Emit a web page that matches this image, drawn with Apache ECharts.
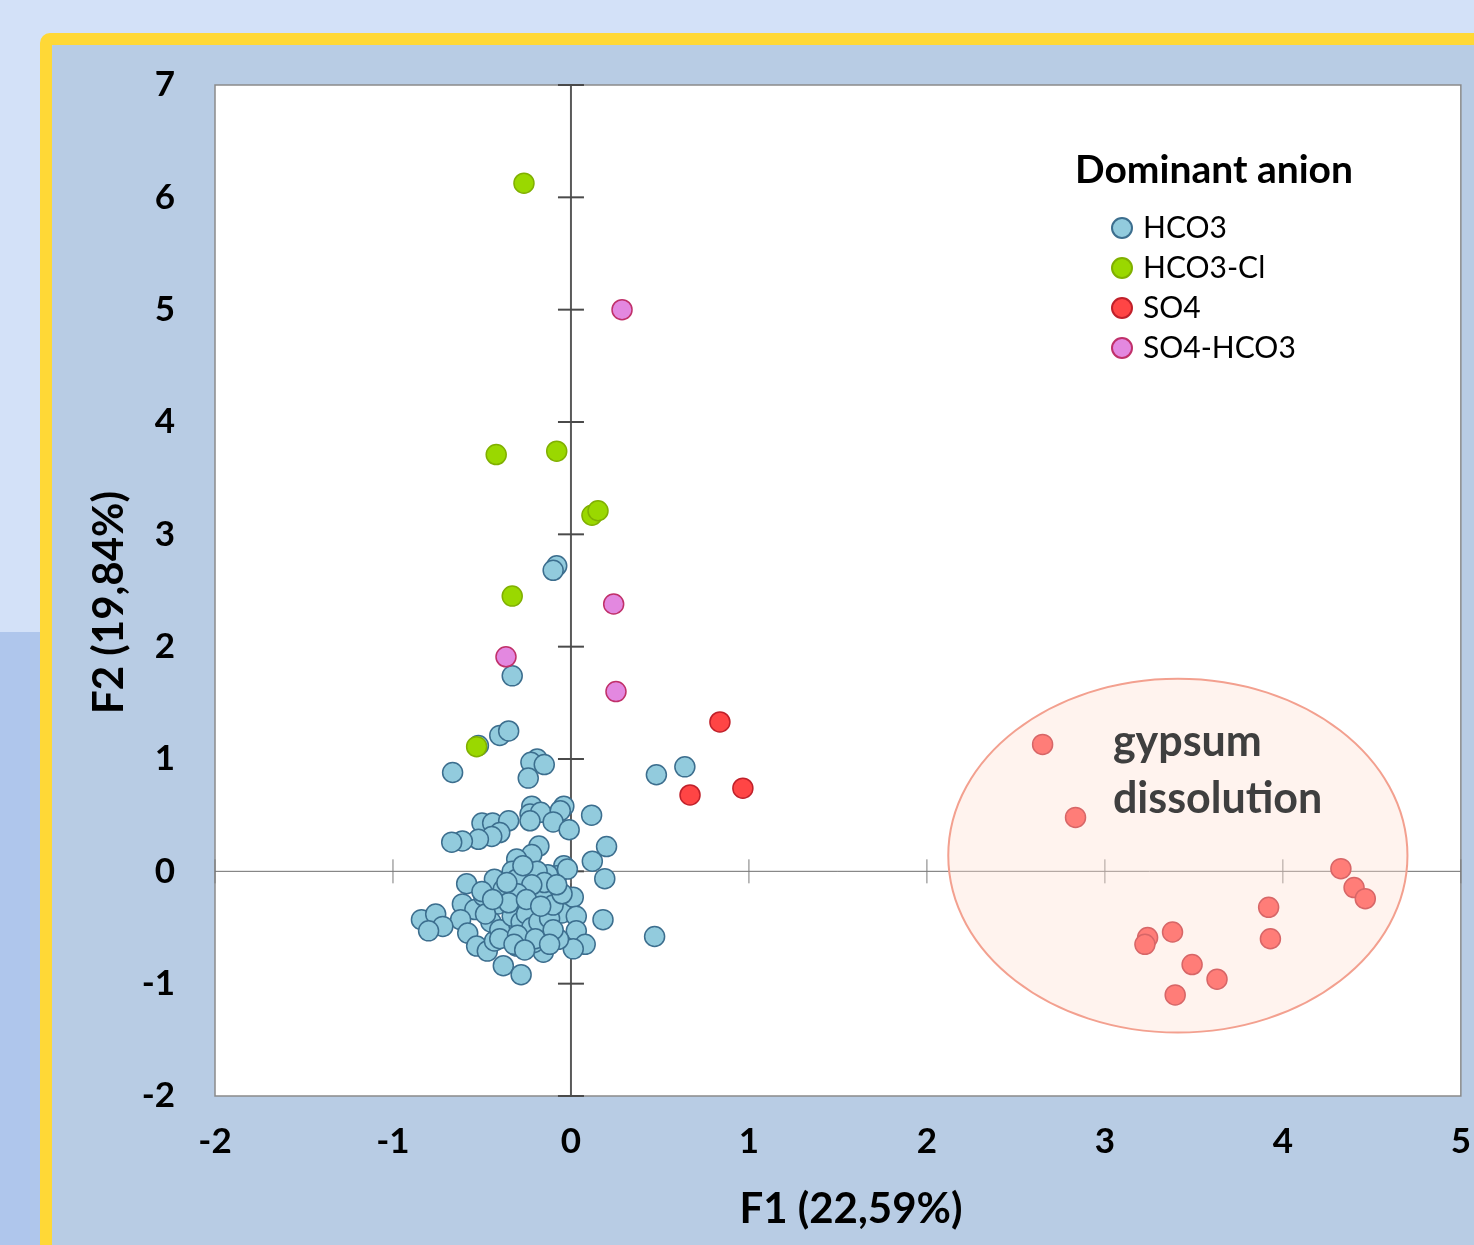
<!DOCTYPE html>
<html>
<head>
<meta charset="utf-8">
<script src="https://cdn.jsdelivr.net/npm/echarts@6/dist/echarts.min.js"></script>
<style>
  html, body { margin: 0; padding: 0; width: 1474px; height: 1245px; overflow: hidden; background: #d3e1f8; }
  #strip { position: absolute; left: 0; top: 632px; width: 40px; height: 613px; background: #afc6ec; }
  #frame { position: absolute; left: 40px; top: 33px; width: 1480px; height: 1260px; box-sizing: border-box;
           border: 12px solid #ffd836; border-radius: 10px; background: #b8cce4; }
  #chart { position: absolute; left: 0; top: 0; width: 1474px; height: 1245px; }
</style>
</head>
<body>
<div id="strip"></div>
<div id="frame"></div>
<div id="chart"></div>
<script>
// ---- data ----
const xTicks = [-2, -1, 0, 1, 2, 3, 4, 5];
const yTicks = [-2, -1, 0, 1, 2, 3, 4, 5, 6, 7];
const xTitle = 'F1 (22,59%)';
const yTitle = 'F2 (19,84%)';
const legendTitle = 'Dominant anion';
const seriesNames = ['HCO3', 'HCO3-Cl', 'SO4', 'SO4-HCO3'];

const hco3 = [
  [-0.08,2.72],[-0.10,2.68],[-0.33,1.74],[-0.40,1.21],[-0.35,1.25],[-0.52,1.12],[-0.665,0.88],
  [-0.19,1.00],[-0.225,0.97],[-0.15,0.95],[-0.24,0.83],[0.48,0.86],[0.64,0.93],[0.47,-0.58],
  [-0.22,0.58],[-0.23,0.51],[-0.17,0.525],[-0.23,0.45],[-0.04,0.58],[-0.06,0.54],[-0.10,0.44],
  [-0.01,0.37],[0.116,0.50],
  [-0.50,0.43],[-0.44,0.43],[-0.35,0.45],[-0.40,0.345],[-0.445,0.31],[-0.52,0.285],[-0.61,0.27],[-0.67,0.26],
  [0.20,0.22],[0.12,0.09],[0.19,-0.065],[0.18,-0.43],
  [-0.18,0.225],[-0.22,0.15],[-0.305,0.11],[-0.33,0.0],[-0.305,-0.07],
  [-0.04,0.05],[-0.08,-0.04],[-0.13,-0.03],[-0.19,0.0],
  [-0.586,-0.11],[-0.43,-0.07],[-0.61,-0.29],[-0.54,-0.34],[-0.62,-0.43],[-0.58,-0.55],[-0.53,-0.665],
  [-0.47,-0.71],[-0.43,-0.62],[-0.35,-0.50],[-0.41,-0.29],[-0.38,-0.16],[-0.49,-0.22],
  [-0.84,-0.43],[-0.76,-0.38],[-0.72,-0.49],[-0.80,-0.53],
  [-0.21,-0.37],[-0.165,-0.205],[-0.05,-0.37],[0.013,-0.23],[0.03,-0.40],[0.03,-0.53],[0.08,-0.65],
  [0.013,-0.69],[-0.07,-0.605],[-0.14,-0.55],[-0.155,-0.72],[-0.24,-0.49],[-0.25,-0.58],[-0.305,-0.665],
  [-0.21,-0.635],[-0.29,-0.34],
  [-0.38,-0.84],[-0.28,-0.92],
  [-0.45,-0.45],[-0.40,-0.52],[-0.33,-0.40],[-0.28,-0.45],[-0.25,-0.38],[-0.22,-0.50],[-0.18,-0.45],
  [-0.12,-0.42],[-0.10,-0.30],[-0.15,-0.10],[-0.22,-0.12],[-0.30,-0.20],[-0.35,-0.28],[-0.48,-0.38],
  [-0.40,-0.60],[-0.30,-0.57],[-0.20,-0.60],[-0.10,-0.52],[-0.05,-0.20],[-0.02,0.02],[-0.27,0.05],
  [-0.36,-0.10],[-0.25,-0.25],[-0.17,-0.31],[-0.08,-0.12],[-0.50,-0.18],[-0.44,-0.25],[-0.32,-0.65],
  [-0.26,-0.70],[-0.12,-0.65]
];
const hco3Cl = [
  [-0.264,6.126],[-0.42,3.71],[-0.08,3.74],[0.118,3.17],[0.152,3.21],[-0.33,2.45],[-0.53,1.11]
];
const so4 = [
  [0.837,1.33],[0.966,0.74],[0.669,0.68],
  [2.65,1.13],[2.835,0.48],[4.326,0.024],[4.40,-0.145],[4.463,-0.243],[3.92,-0.32],[3.93,-0.60],
  [3.38,-0.54],[3.24,-0.59],[3.225,-0.65],[3.49,-0.83],[3.63,-0.96],[3.395,-1.10]
];
const so4Hco3 = [
  [0.287,5.0],[0.24,2.38],[-0.365,1.91],[0.253,1.60]
];
// annotation: gypsum dissolution ellipse (data units) and its label
const ellipseCenter = [3.41, 0.14];
const ellipseRadius = [1.29, 1.575];
const noteLines = ['gypsum', 'dissolution'];
const noteAnchor = [[3.045, 1.15], [3.045, 0.64]];

// ---- chart ----
const chart = echarts.init(document.getElementById('chart'), null, { renderer: 'canvas' });
const FONT = 'Lato, "Open Sans", sans-serif';

function scatter(name, data, fill, border) {
  return {
    name, type: 'scatter', data, z: 3,
    symbol: 'circle', symbolSize: 20,
    itemStyle: { color: fill, borderColor: border, borderWidth: 1.5, opacity: 1 },
    emphasis: { disabled: true }
  };
}

const option = {
  backgroundColor: 'transparent',
  animation: false,
  title: {
    text: legendTitle, left: 1070, top: 146,
    textStyle: { fontFamily: FONT, fontWeight: 'bold', fontSize: 39, color: '#000' }
  },
  legend: {
    data: seriesNames, orient: 'vertical', left: 1106, top: 208,
    itemWidth: 20, itemHeight: 20, itemGap: 10, icon: 'circle',
    textStyle: { fontFamily: FONT, fontSize: 30, color: '#000', lineHeight: 30, padding: [0, 0, 0, 6] },
    selectedMode: false
  },
  grid: {
    left: 215, top: 85, width: 1246, height: 1011,
    show: true, backgroundColor: '#ffffff', borderColor: '#8a8a8a', borderWidth: 1.5
  },
  xAxis: {
    type: 'value', min: xTicks[0], max: xTicks[xTicks.length - 1], interval: 1,
    axisLine: { show: false, onZero: false }, axisTick: { show: false }, splitLine: { show: false },
    axisLabel: { fontFamily: FONT, fontWeight: 'bold', fontSize: 35, color: '#000', margin: 28 },
    name: xTitle, nameLocation: 'middle', nameGap: 92,
    nameTextStyle: { fontFamily: FONT, fontWeight: 'bold', fontSize: 42, color: '#000', padding: [0, 0, 0, 26] }
  },
  yAxis: {
    type: 'value', min: yTicks[0], max: yTicks[yTicks.length - 1], interval: 1,
    axisLine: { show: false, onZero: false }, axisTick: { show: false }, splitLine: { show: false },
    axisLabel: { fontFamily: FONT, fontWeight: 'bold', fontSize: 35, color: '#000', margin: 40 },
    name: yTitle, nameLocation: 'middle', nameGap: 84,
    nameTextStyle: { fontFamily: FONT, fontWeight: 'bold', fontSize: 42, color: '#000', padding: [0, 24, 0, 0] }
  },
  series: [
    {
      // crosshair axes through the origin with crossing tick marks
      type: 'custom', z: 1, silent: true, clip: false, data: [[0, 0]],
      renderItem: function (params, api) {
        const ch = [];
        const xl = api.coord([xTicks[0], 0]), xr = api.coord([xTicks[xTicks.length - 1], 0]);
        const yb = api.coord([0, yTicks[0]]), yt = api.coord([0, yTicks[yTicks.length - 1]]);
        ch.push({ type: 'line', shape: { x1: xl[0], y1: xl[1], x2: xr[0], y2: xr[1] },
                  style: { stroke: '#6e6e6e', lineWidth: 1 } });
        ch.push({ type: 'line', shape: { x1: yb[0], y1: yb[1], x2: yt[0], y2: yt[1] },
                  style: { stroke: '#5a5a5a', lineWidth: 2 } });
        xTicks.forEach(function (v) {
          const p = api.coord([v, 0]);
          ch.push({ type: 'line', shape: { x1: p[0], y1: p[1] - 12, x2: p[0], y2: p[1] + 12 },
                    style: { stroke: '#7a7a7a', lineWidth: 1 } });
        });
        yTicks.forEach(function (v) {
          const p = api.coord([0, v]);
          ch.push({ type: 'line', shape: { x1: p[0] - 13, y1: p[1], x2: p[0] + 13, y2: p[1] },
                    style: { stroke: '#4a4a4a', lineWidth: 2 } });
        });
        return { type: 'group', children: ch };
      }
    },
    scatter(seriesNames[0], hco3, '#92cbdd', '#3c6e8e'),
    scatter(seriesNames[1], hco3Cl, '#9ad800', '#80b000'),
    scatter(seriesNames[2], so4, '#ff4545', '#c0202a'),
    scatter(seriesNames[3], so4Hco3, '#e388e0', '#c0306a'),
    {
      // translucent ellipse over the gypsum-dissolution group, with its label
      type: 'custom', z: 6, silent: true, clip: false, data: [[ellipseCenter[0], ellipseCenter[1]]],
      renderItem: function (params, api) {
        const c = api.coord(ellipseCenter);
        const s = api.size(ellipseRadius);
        const ch = [{
          type: 'ellipse', shape: { cx: c[0], cy: c[1], rx: s[0], ry: s[1] },
          style: { fill: 'rgba(255,222,209,0.37)', stroke: '#f3a08f', lineWidth: 2 }
        }];
        noteLines.forEach(function (t, i) {
          const p = api.coord(noteAnchor[i]);
          ch.push({ type: 'text', x: p[0], y: p[1],
                    style: { text: t, fill: '#3f3f3f', font: 'bold 43px ' + FONT,
                             textAlign: 'left', textVerticalAlign: 'middle' } });
        });
        return { type: 'group', children: ch };
      }
    }
  ]
};
chart.setOption(option);
</script>
</body>
</html>
